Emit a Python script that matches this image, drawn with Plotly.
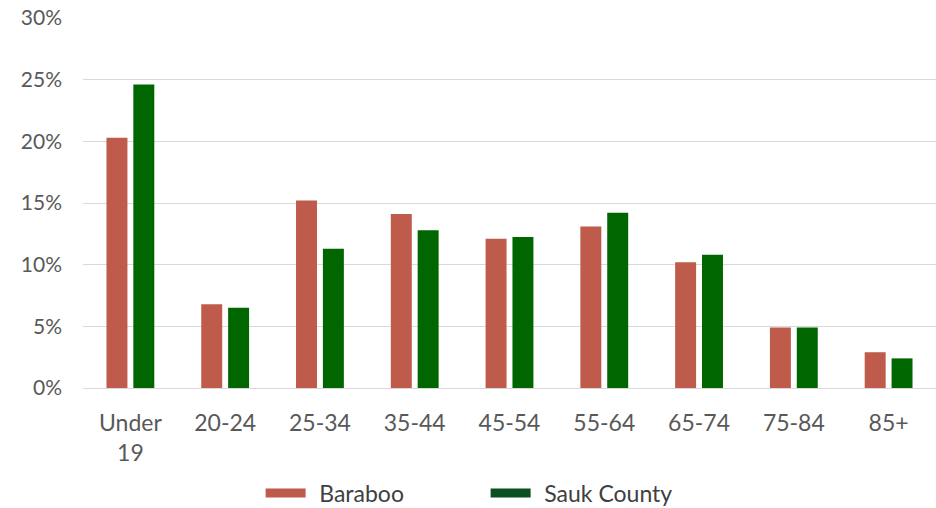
import plotly.graph_objects as go

categories = ["Under<br>19", "20-24", "25-34", "35-44", "45-54", "55-64", "65-74", "75-84", "85+"]
baraboo = [20.3, 6.8, 15.2, 14.1, 12.1, 13.1, 10.2, 4.9, 2.9]
sauk = [24.6, 6.5, 11.3, 12.8, 12.25, 14.2, 10.8, 4.9, 2.4]
series_names = ["Baraboo", "Sauk County"]
bar_colors = ["#BF5B4B", "#006600"]
legend_colors = ["#BF5B4B", "#0B4F22"]
y_ticks = [0, 5, 10, 15, 20, 25, 30]

FONT = "Lato"

fig = go.Figure()
for name, vals, col in zip(series_names, [baraboo, sauk], bar_colors):
    fig.add_trace(go.Bar(x=categories, y=[v / 100 for v in vals], name=name,
                         marker=dict(color=col, line=dict(width=0)),
                         showlegend=False))
# legend entries as wide swatches
for name, col in zip(series_names, legend_colors):
    fig.add_trace(go.Scatter(x=[None], y=[None], mode="lines", name="\u2009\u2009\u2009" + name,
                             line=dict(color=col, width=9)))

fig.update_layout(
    width=936, height=508,
    margin=dict(l=83, r=0, t=18, b=120, autoexpand=False),
    paper_bgcolor="white", plot_bgcolor="white",
    barmode="group", bargap=0.433, bargroupgap=0.22,
    font=dict(family=FONT, size=19, color="#595959"),
    showlegend=True,
    legend=dict(orientation="h", x=0.472, xanchor="center",
                yref="container", y=1 - 493 / 508, yanchor="middle",
                font=dict(family=FONT, size=23, color="#404040"),
                itemwidth=40, entrywidth=170),
    xaxis=dict(showgrid=False, showline=True, linecolor="#D9D9D9", linewidth=1,
               ticks="", ticklabelstandoff=14, tickfont=dict(size=23), automargin=False),
    yaxis=dict(range=[0, 0.30], tickvals=[t / 100 for t in y_ticks],
               ticktext=[f"{t}%" for t in y_ticks],
               showgrid=True, gridcolor="#D9D9D9", gridwidth=1,
               zeroline=False, showline=False, ticks="", ticklabelstandoff=20,
               tickfont=dict(size=21), automargin=False),
)

fig.write_html("out.html")
